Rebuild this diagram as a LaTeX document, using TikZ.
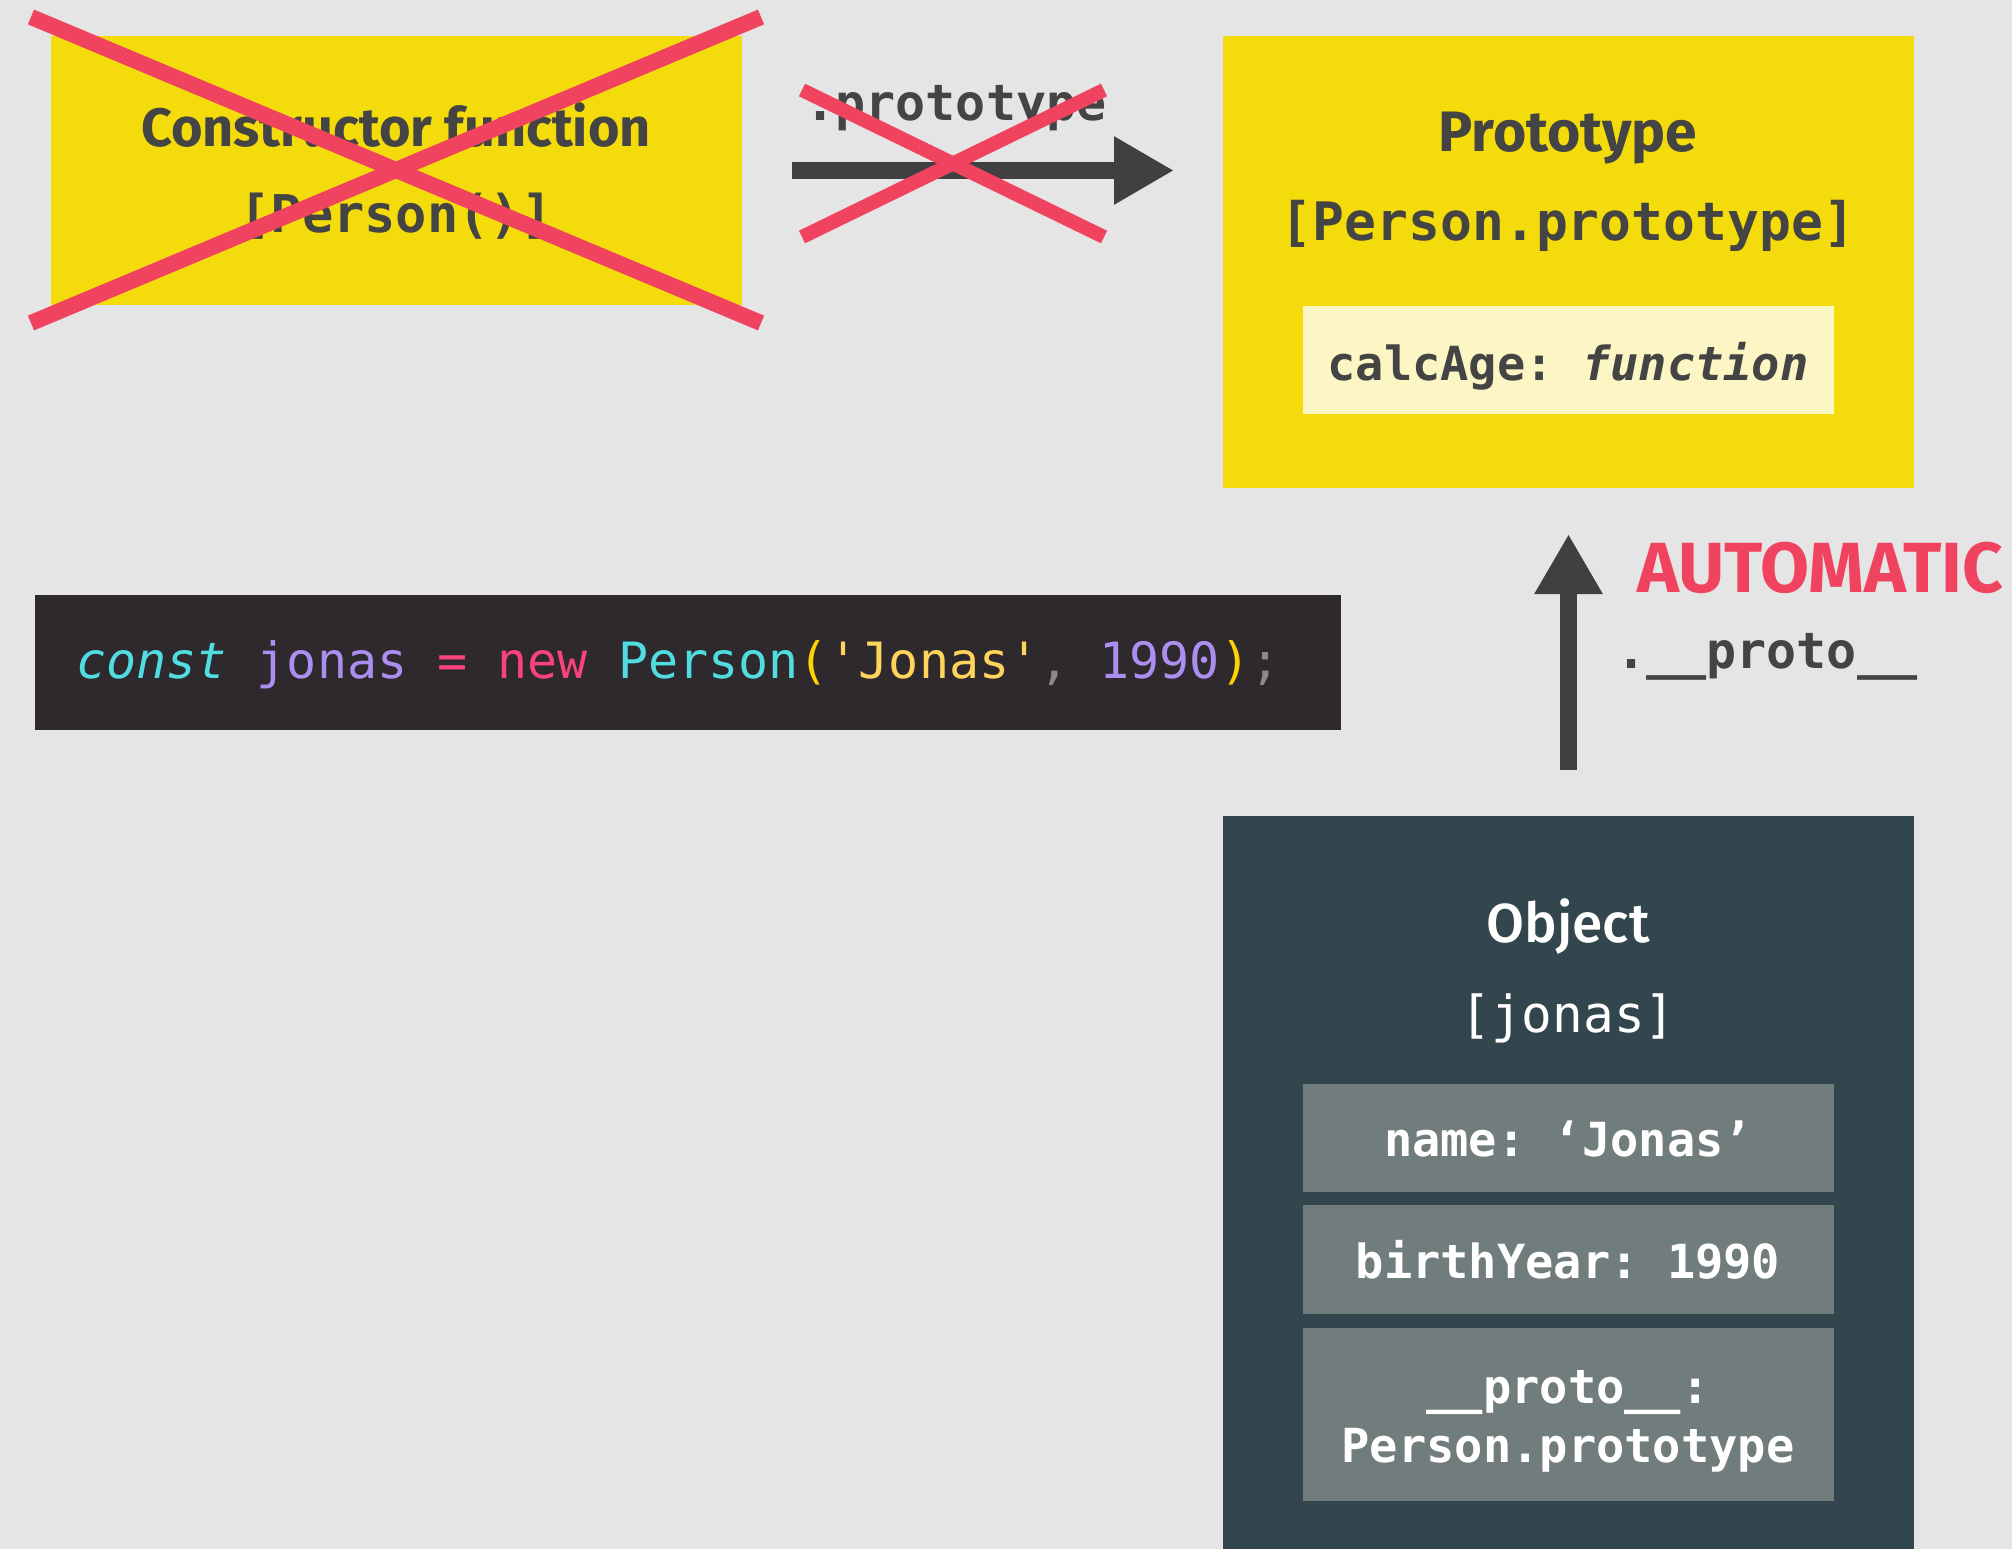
\documentclass[tikz,border=0pt]{standalone}
\usepackage{fontspec}
\setmainfont{Fira Sans}
\setmonofont{DejaVu Sans Mono}
\newfontfamily\headfont{Fira Sans}
\newfontfamily\medfont{Fira Sans Medium}
\usetikzlibrary{arrows.meta}
\definecolor{bgc}{HTML}{E5E5E5}
\definecolor{yel}{HTML}{F4DC0C}
\definecolor{lightyel}{HTML}{FCF5C4}
\definecolor{darktxt}{HTML}{444444}
\definecolor{arrowc}{HTML}{404040}
\definecolor{crossred}{HTML}{F0435F}
\definecolor{codebg}{HTML}{2E292D}
\definecolor{objbg}{HTML}{33464D}
\definecolor{rowgray}{HTML}{717C7C}
\definecolor{ccyan}{HTML}{50DCE0}
\definecolor{cpurple}{HTML}{AB8EF0}
\definecolor{cpink}{HTML}{F9437A}
\definecolor{cyellow}{HTML}{FFD200}
\definecolor{corange}{HTML}{FFD45C}
\definecolor{cgray}{HTML}{8A8A8A}
\begin{document}
\begin{tikzpicture}[x=1pt,y=-1pt,
  box/.style={draw=none, inner sep=0pt, outer sep=0pt, anchor=north west},
  txt/.style={inner sep=0pt, anchor=base},
  conn/.style={line width=17pt, draw=arrowc, -{Triangle[length=60pt,width=64pt]}},
  cross/.style={line width=16pt, draw=crossred},
  smallcross/.style={line width=14pt, draw=crossred},
  head/.style={font=\headfont\bfseries\fontsize{#1}{#1}\selectfont},
  code/.style={font=\ttfamily\bfseries\fontsize{#1}{#1}\selectfont}]
\useasboundingbox (0,0) rectangle (2012,1549);
\fill[bgc] (0,0) rectangle (2012,1549);
% boxes
\node[box, fill=yel, minimum width=691pt, minimum height=269pt] (ctor) at (51,36) {};
\node[box, fill=yel, minimum width=691pt, minimum height=452pt] (proto) at (1223,36) {};
\node[box, fill=lightyel, minimum width=531pt, minimum height=108pt] (calc) at (1303,306) {};
\node[box, fill=codebg, minimum width=1306pt, minimum height=135pt] (code) at (35,595) {};
\node[box, fill=objbg, minimum width=691pt, minimum height=733pt] (obj) at (1223,816) {};
\node[box, fill=rowgray, minimum width=531pt, minimum height=108pt] (row1) at (1303,1084) {};
\node[box, fill=rowgray, minimum width=531pt, minimum height=109pt] (row2) at (1303,1205) {};
\node[box, fill=rowgray, minimum width=531pt, minimum height=173pt] (row3) at (1303,1328) {};
% texts
\node[txt, head=54, text=darktxt] (ctortitle) at (396,147) {Constructor function};
\node[txt, code=52, text=darktxt] (ctorname) at (396,233) {[Person()]};
\node[txt, code=50, text=darktxt] (protolbl) at (956,121) {.prototype};
\node[txt, head=57, text=darktxt] (prototitle) at (1568,152) {Prototype};
\node[txt, code=53, text=darktxt] (protoname) at (1568,240) {[Person.prototype]};
\node[txt, code=47, text=darktxt] (calctxt) at (1568,380) {calcAge: \textit{function}};
\node[txt, head=71, text=crossred, anchor=base west] (auto) at (1637,592) {AUTOMATIC};
\node[txt, code=50, text=darktxt, anchor=base west] (dunder) at (1616,668) {.\_\_proto\_\_};
\node[txt, anchor=base west, font=\ttfamily\fontsize{50}{50}\selectfont] (codetxt) at (76,678)
  {{\color{ccyan}\itshape const} {\color{cpurple}jonas} {\color{cpink}=} {\color{cpink}new} {\color{ccyan}Person}{\color{cyellow}(}{\color{corange}'Jonas'}{\color{cgray},} {\color{cpurple}1990}{\color{cyellow})}{\color{cgray};}};
\node[txt, font=\medfont\fontsize{55}{55}\selectfont, text=white] (objtitle) at (1568,942) {Object};
\node[txt, font=\ttfamily\fontsize{51}{51}\selectfont, text=white] (objname) at (1568,1032) {[jonas]};
\node[txt, code=47, text=white] (r1txt) at (1568,1156) {name: ‘Jonas’};
\node[txt, code=47, text=white] (r2txt) at (1568,1278) {birthYear: 1990};
\node[txt, code=47, text=white] (r3txta) at (1568,1403) {\_\_proto\_\_:};
\node[txt, code=47, text=white] (r3txtb) at (1568,1462) {Person.prototype};
% connectors
\draw[conn, shorten <=50pt, shorten >=49pt] (ctor.east) -- (ctor.east -| proto.west);
\draw[conn, shorten <=46pt, shorten >=46pt] (obj.north) -- (proto.south);
% crosses
\draw[cross] (31,17) -- (761,323);
\draw[cross] (31,323) -- (761,17);
\draw[smallcross] (802,90) -- (1104,237);
\draw[smallcross] (802,237) -- (1104,90);
\end{tikzpicture}
\end{document}
